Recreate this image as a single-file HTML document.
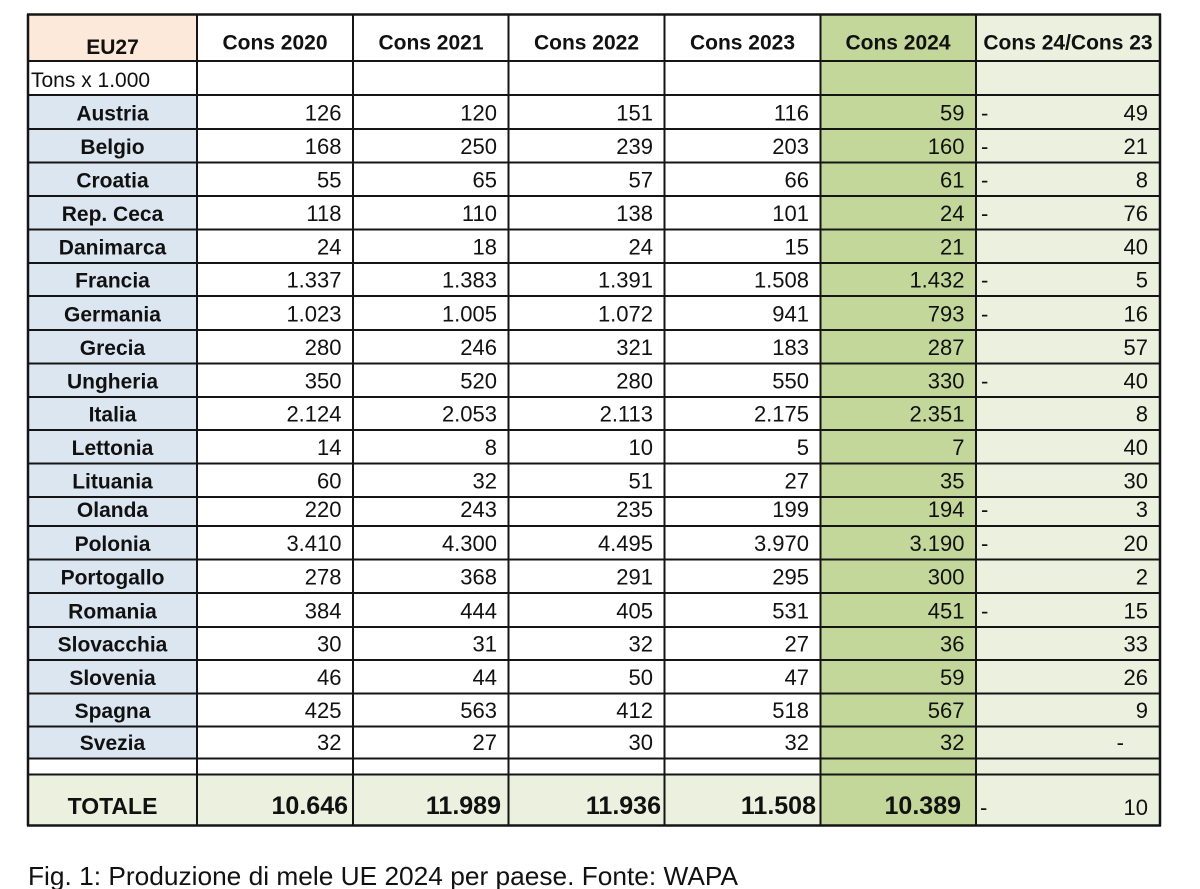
<!DOCTYPE html>
<html>
<head>
<meta charset="utf-8">
<style>
html,body{margin:0;padding:0;background:#fff;}
svg{display:block;}
text{font-family:"Liberation Sans",Arial,sans-serif;fill:#111;}
.h{font-weight:bold;font-size:21px;text-anchor:middle;}
.c{font-weight:bold;font-size:21px;text-anchor:middle;}
.n{font-size:22px;text-anchor:end;}
.t{font-weight:bold;font-size:25px;text-anchor:end;}
.d{font-size:22px;}
</style>
</head>
<body>
<svg width="1200" height="889" viewBox="0 0 1200 889" xmlns="http://www.w3.org/2000/svg">
<!-- backgrounds -->
<rect x="28" y="14.5" width="169" height="46.5" fill="#fde9d9"/>
<rect x="28" y="95" width="169" height="663.5" fill="#dce6f1"/>
<rect x="820.5" y="14.5" width="155.5" height="811" fill="#c4d79b"/>
<rect x="976" y="14.5" width="184" height="811" fill="#ebf1de"/>
<rect x="28" y="774.5" width="792.5" height="51" fill="#ebf1de"/>

<!-- horizontal lines -->
<g stroke="#151515" stroke-width="2">
<line x1="27" y1="14.5" x2="1161" y2="14.5" stroke-width="2.5"/>
<line x1="27" y1="61" x2="1161" y2="61"/>
<line x1="27" y1="95" x2="1161" y2="95"/>
<line x1="27" y1="129" x2="1161" y2="129"/>
<line x1="27" y1="162.5" x2="1161" y2="162.5"/>
<line x1="27" y1="196" x2="1161" y2="196"/>
<line x1="27" y1="229.5" x2="1161" y2="229.5"/>
<line x1="27" y1="263" x2="1161" y2="263"/>
<line x1="27" y1="296" x2="1161" y2="296"/>
<line x1="27" y1="330" x2="1161" y2="330"/>
<line x1="27" y1="363.5" x2="1161" y2="363.5"/>
<line x1="27" y1="397" x2="1161" y2="397"/>
<line x1="27" y1="430" x2="1161" y2="430"/>
<line x1="27" y1="463.5" x2="1161" y2="463.5"/>
<line x1="27" y1="497" x2="1161" y2="497"/>
<line x1="27" y1="526" x2="1161" y2="526"/>
<line x1="27" y1="559.5" x2="1161" y2="559.5"/>
<line x1="27" y1="593" x2="1161" y2="593"/>
<line x1="27" y1="627" x2="1161" y2="627"/>
<line x1="27" y1="660" x2="1161" y2="660"/>
<line x1="27" y1="693.5" x2="1161" y2="693.5"/>
<line x1="27" y1="726.5" x2="1161" y2="726.5"/>
<line x1="27" y1="758.5" x2="1161" y2="758.5"/>
<line x1="27" y1="774.5" x2="1161" y2="774.5"/>
<line x1="27" y1="825.5" x2="1161" y2="825.5" stroke-width="2.5"/>
<!-- vertical lines -->
<line x1="28" y1="14" x2="28" y2="826" stroke-width="2.5"/>
<line x1="197" y1="14" x2="197" y2="826"/>
<line x1="353" y1="14" x2="353" y2="826"/>
<line x1="508.5" y1="14" x2="508.5" y2="826"/>
<line x1="664.5" y1="14" x2="664.5" y2="826"/>
<line x1="820.5" y1="14" x2="820.5" y2="826"/>
<line x1="976" y1="14" x2="976" y2="826"/>
<line x1="1160" y1="14" x2="1160" y2="826" stroke-width="2.5"/>
</g>

<!-- header -->
<text class="h" x="112.5" y="54">EU27</text>
<text class="h" x="275" y="49.5">Cons 2020</text>
<text class="h" x="431" y="49.5">Cons 2021</text>
<text class="h" x="586.5" y="49.5">Cons 2022</text>
<text class="h" x="742.5" y="49.5">Cons 2023</text>
<text class="h" x="898" y="49.5">Cons 2024</text>
<text class="h" x="1068" y="49.5">Cons 24/Cons 23</text>
<text x="31" y="87" style="font-size:21px">Tons x 1.000</text>

<!-- country names -->
<g class="c">
<text class="c" x="112.5" y="120.5">Austria</text>
<text class="c" x="112.5" y="154">Belgio</text>
<text class="c" x="112.5" y="187.5">Croatia</text>
<text class="c" x="112.5" y="221">Rep. Ceca</text>
<text class="c" x="112.5" y="254.5">Danimarca</text>
<text class="c" x="112.5" y="287.5">Francia</text>
<text class="c" x="112.5" y="321.5">Germania</text>
<text class="c" x="112.5" y="355">Grecia</text>
<text class="c" x="112.5" y="388.5">Ungheria</text>
<text class="c" x="112.5" y="421.5">Italia</text>
<text class="c" x="112.5" y="455">Lettonia</text>
<text class="c" x="112.5" y="488.5">Lituania</text>
<text class="c" x="112.5" y="517">Olanda</text>
<text class="c" x="112.5" y="551">Polonia</text>
<text class="c" x="112.5" y="584.5">Portogallo</text>
<text class="c" x="112.5" y="618.5">Romania</text>
<text class="c" x="112.5" y="651.5">Slovacchia</text>
<text class="c" x="112.5" y="685">Slovenia</text>
<text class="c" x="112.5" y="718">Spagna</text>
<text class="c" x="112.5" y="750">Svezia</text>
</g>

<!-- numbers: columns right edges 341.5, 497, 653, 809, 964.5, 1148 -->
<g>
<!-- Austria -->
<text class="n" x="341.5" y="120.5">126</text><text class="n" x="497" y="120.5">120</text><text class="n" x="653" y="120.5">151</text><text class="n" x="809" y="120.5">116</text><text class="n" x="964.5" y="120.5">59</text><text class="d" x="981" y="120.5">-</text><text class="n" x="1148" y="120.5">49</text>
<!-- Belgio -->
<text class="n" x="341.5" y="154">168</text><text class="n" x="497" y="154">250</text><text class="n" x="653" y="154">239</text><text class="n" x="809" y="154">203</text><text class="n" x="964.5" y="154">160</text><text class="d" x="981" y="154">-</text><text class="n" x="1148" y="154">21</text>
<!-- Croatia -->
<text class="n" x="341.5" y="187.5">55</text><text class="n" x="497" y="187.5">65</text><text class="n" x="653" y="187.5">57</text><text class="n" x="809" y="187.5">66</text><text class="n" x="964.5" y="187.5">61</text><text class="d" x="981" y="187.5">-</text><text class="n" x="1148" y="187.5">8</text>
<!-- Rep. Ceca -->
<text class="n" x="341.5" y="221">118</text><text class="n" x="497" y="221">110</text><text class="n" x="653" y="221">138</text><text class="n" x="809" y="221">101</text><text class="n" x="964.5" y="221">24</text><text class="d" x="981" y="221">-</text><text class="n" x="1148" y="221">76</text>
<!-- Danimarca -->
<text class="n" x="341.5" y="254.5">24</text><text class="n" x="497" y="254.5">18</text><text class="n" x="653" y="254.5">24</text><text class="n" x="809" y="254.5">15</text><text class="n" x="964.5" y="254.5">21</text><text class="n" x="1148" y="254.5">40</text>
<!-- Francia -->
<text class="n" x="341.5" y="287.5">1.337</text><text class="n" x="497" y="287.5">1.383</text><text class="n" x="653" y="287.5">1.391</text><text class="n" x="809" y="287.5">1.508</text><text class="n" x="964.5" y="287.5">1.432</text><text class="d" x="981" y="287.5">-</text><text class="n" x="1148" y="287.5">5</text>
<!-- Germania -->
<text class="n" x="341.5" y="321.5">1.023</text><text class="n" x="497" y="321.5">1.005</text><text class="n" x="653" y="321.5">1.072</text><text class="n" x="809" y="321.5">941</text><text class="n" x="964.5" y="321.5">793</text><text class="d" x="981" y="321.5">-</text><text class="n" x="1148" y="321.5">16</text>
<!-- Grecia -->
<text class="n" x="341.5" y="355">280</text><text class="n" x="497" y="355">246</text><text class="n" x="653" y="355">321</text><text class="n" x="809" y="355">183</text><text class="n" x="964.5" y="355">287</text><text class="n" x="1148" y="355">57</text>
<!-- Ungheria -->
<text class="n" x="341.5" y="388.5">350</text><text class="n" x="497" y="388.5">520</text><text class="n" x="653" y="388.5">280</text><text class="n" x="809" y="388.5">550</text><text class="n" x="964.5" y="388.5">330</text><text class="d" x="981" y="388.5">-</text><text class="n" x="1148" y="388.5">40</text>
<!-- Italia -->
<text class="n" x="341.5" y="421.5">2.124</text><text class="n" x="497" y="421.5">2.053</text><text class="n" x="653" y="421.5">2.113</text><text class="n" x="809" y="421.5">2.175</text><text class="n" x="964.5" y="421.5">2.351</text><text class="n" x="1148" y="421.5">8</text>
<!-- Lettonia -->
<text class="n" x="341.5" y="455">14</text><text class="n" x="497" y="455">8</text><text class="n" x="653" y="455">10</text><text class="n" x="809" y="455">5</text><text class="n" x="964.5" y="455">7</text><text class="n" x="1148" y="455">40</text>
<!-- Lituania -->
<text class="n" x="341.5" y="488.5">60</text><text class="n" x="497" y="488.5">32</text><text class="n" x="653" y="488.5">51</text><text class="n" x="809" y="488.5">27</text><text class="n" x="964.5" y="488.5">35</text><text class="n" x="1148" y="488.5">30</text>
<!-- Olanda -->
<text class="n" x="341.5" y="517">220</text><text class="n" x="497" y="517">243</text><text class="n" x="653" y="517">235</text><text class="n" x="809" y="517">199</text><text class="n" x="964.5" y="517">194</text><text class="d" x="981" y="517">-</text><text class="n" x="1148" y="517">3</text>
<!-- Polonia -->
<text class="n" x="341.5" y="551">3.410</text><text class="n" x="497" y="551">4.300</text><text class="n" x="653" y="551">4.495</text><text class="n" x="809" y="551">3.970</text><text class="n" x="964.5" y="551">3.190</text><text class="d" x="981" y="551">-</text><text class="n" x="1148" y="551">20</text>
<!-- Portogallo -->
<text class="n" x="341.5" y="584.5">278</text><text class="n" x="497" y="584.5">368</text><text class="n" x="653" y="584.5">291</text><text class="n" x="809" y="584.5">295</text><text class="n" x="964.5" y="584.5">300</text><text class="n" x="1148" y="584.5">2</text>
<!-- Romania -->
<text class="n" x="341.5" y="618.5">384</text><text class="n" x="497" y="618.5">444</text><text class="n" x="653" y="618.5">405</text><text class="n" x="809" y="618.5">531</text><text class="n" x="964.5" y="618.5">451</text><text class="d" x="981" y="618.5">-</text><text class="n" x="1148" y="618.5">15</text>
<!-- Slovacchia -->
<text class="n" x="341.5" y="651.5">30</text><text class="n" x="497" y="651.5">31</text><text class="n" x="653" y="651.5">32</text><text class="n" x="809" y="651.5">27</text><text class="n" x="964.5" y="651.5">36</text><text class="n" x="1148" y="651.5">33</text>
<!-- Slovenia -->
<text class="n" x="341.5" y="685">46</text><text class="n" x="497" y="685">44</text><text class="n" x="653" y="685">50</text><text class="n" x="809" y="685">47</text><text class="n" x="964.5" y="685">59</text><text class="n" x="1148" y="685">26</text>
<!-- Spagna -->
<text class="n" x="341.5" y="718">425</text><text class="n" x="497" y="718">563</text><text class="n" x="653" y="718">412</text><text class="n" x="809" y="718">518</text><text class="n" x="964.5" y="718">567</text><text class="n" x="1148" y="718">9</text>
<!-- Svezia -->
<text class="n" x="341.5" y="750">32</text><text class="n" x="497" y="750">27</text><text class="n" x="653" y="750">30</text><text class="n" x="809" y="750">32</text><text class="n" x="964.5" y="750">32</text><text class="n" x="1124" y="750">-</text>
</g>

<!-- totals -->
<text x="112.5" y="814" style="font-weight:bold;font-size:23px;text-anchor:middle">TOTALE</text>
<text class="t" x="348" y="814">10.646</text>
<text class="t" x="501" y="814">11.989</text>
<text class="t" x="661" y="814">11.936</text>
<text class="t" x="816" y="814">11.508</text>
<text class="t" x="961" y="814">10.389</text>
<text class="d" x="980" y="815">-</text>
<text class="n" x="1148" y="815">10</text>

<!-- caption -->
<text x="28" y="885" style="font-size:26px" textLength="710" lengthAdjust="spacingAndGlyphs">Fig. 1: Produzione di mele UE 2024 per paese. Fonte: WAPA</text>
</svg>
</body>
</html>
